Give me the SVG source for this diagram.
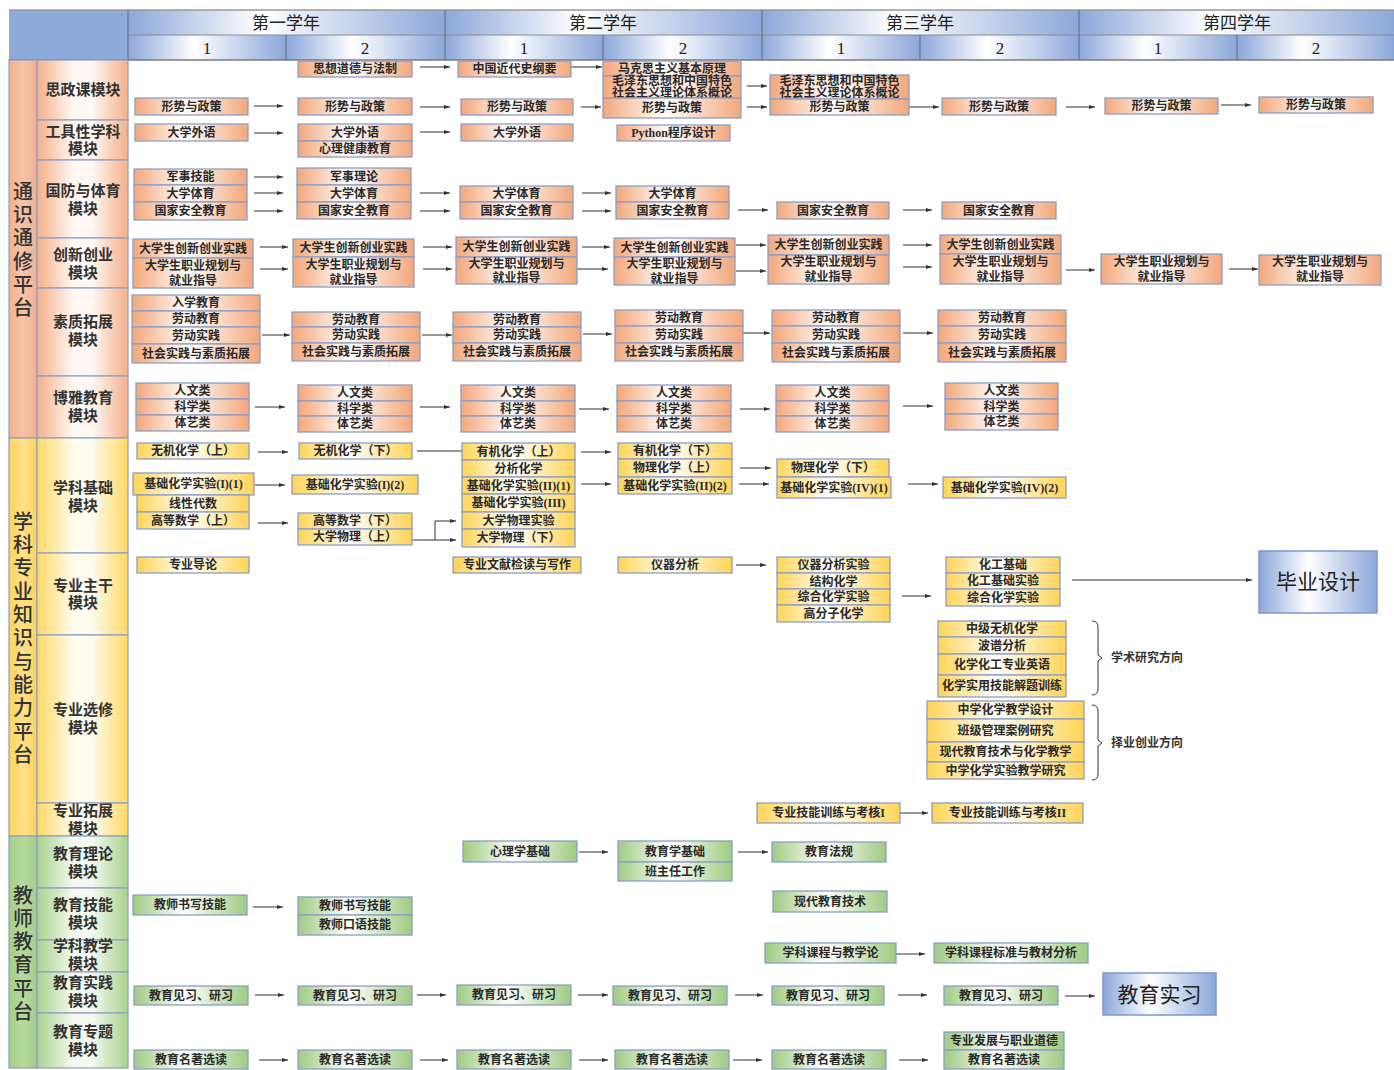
<svg xmlns="http://www.w3.org/2000/svg" width="1394" height="1070" viewBox="0 0 1394 1070">
<defs>
<linearGradient id="gO" x1="0" y1="0" x2="1" y2="0"><stop offset="0" stop-color="#F3A77A"/><stop offset="0.45" stop-color="#FFFFFF"/><stop offset="1" stop-color="#F3A77A"/></linearGradient>
<linearGradient id="gY" x1="0" y1="0" x2="1" y2="0"><stop offset="0" stop-color="#FFD455"/><stop offset="0.45" stop-color="#FFFFFF"/><stop offset="1" stop-color="#FFD455"/></linearGradient>
<linearGradient id="gG" x1="0" y1="0" x2="1" y2="0"><stop offset="0" stop-color="#9FCB82"/><stop offset="0.45" stop-color="#FFFFFF"/><stop offset="1" stop-color="#9FCB82"/></linearGradient>
<linearGradient id="gB" x1="0" y1="0" x2="1" y2="0"><stop offset="0" stop-color="#8BA7DA"/><stop offset="0.42" stop-color="#FFFFFF"/><stop offset="1" stop-color="#8BA7DA"/></linearGradient>
<linearGradient id="mO" x1="0" y1="0" x2="1" y2="0"><stop offset="0" stop-color="#F3B08A"/><stop offset="0.4" stop-color="#FFF8F3"/><stop offset="0.6" stop-color="#FFF8F3"/><stop offset="1" stop-color="#F3B08A"/></linearGradient>
<linearGradient id="mY" x1="0" y1="0" x2="1" y2="0"><stop offset="0" stop-color="#FFD966"/><stop offset="0.4" stop-color="#FFFBEF"/><stop offset="0.6" stop-color="#FFFBEF"/><stop offset="1" stop-color="#FFD966"/></linearGradient>
<linearGradient id="mG" x1="0" y1="0" x2="1" y2="0"><stop offset="0" stop-color="#A9D18E"/><stop offset="0.4" stop-color="#F4FAF0"/><stop offset="0.6" stop-color="#F4FAF0"/><stop offset="1" stop-color="#A9D18E"/></linearGradient>
<linearGradient id="pO" x1="0" y1="0" x2="1" y2="0"><stop offset="0" stop-color="#F2B08C"/><stop offset="0.5" stop-color="#F6C4A8"/><stop offset="1" stop-color="#F2B08C"/></linearGradient>
<linearGradient id="pY" x1="0" y1="0" x2="1" y2="0"><stop offset="0" stop-color="#FFD45C"/><stop offset="0.5" stop-color="#FFE08A"/><stop offset="1" stop-color="#FFD45C"/></linearGradient>
<linearGradient id="pG" x1="0" y1="0" x2="1" y2="0"><stop offset="0" stop-color="#A3CE87"/><stop offset="0.5" stop-color="#B5D99E"/><stop offset="1" stop-color="#A3CE87"/></linearGradient>
<marker id="ah" viewBox="0 0 6 4" markerWidth="6" markerHeight="4" refX="6" refY="2" orient="auto" markerUnits="userSpaceOnUse"><path d="M0,0 L6,2 L0,4 z" fill="#333"/></marker>
</defs>
<style>
.o{fill:url(#gO);stroke:#8C9FC6;stroke-width:1.3}
.y{fill:url(#gY);stroke:#8C9FC6;stroke-width:1.3}
.g{fill:url(#gG);stroke:#8C9FC6;stroke-width:1.3}
.b{fill:url(#gB);stroke:#7E98CB;stroke-width:1.5}
.t{font-family:"Liberation Serif","Noto Sans CJK SC",serif;font-size:12px;font-weight:700;fill:#2a2a2a;text-anchor:middle;dominant-baseline:central}
.m{font-family:"Liberation Serif","Noto Sans CJK SC",serif;font-size:15px;font-weight:700;fill:#333;text-anchor:middle;dominant-baseline:central}
.p{font-family:"Liberation Serif","Noto Sans CJK SC",serif;font-size:20px;font-weight:500;fill:#333;text-anchor:middle;dominant-baseline:central}
.h{font-family:"Liberation Serif","Noto Sans CJK SC",serif;font-size:17px;font-weight:400;fill:#222;text-anchor:middle;dominant-baseline:central}
.big{font-family:"Liberation Serif","Noto Sans CJK SC",serif;font-size:21px;font-weight:400;fill:#222;text-anchor:middle;dominant-baseline:central}
.lb{font-family:"Liberation Serif","Noto Sans CJK SC",serif;font-size:12px;font-weight:700;fill:#333;dominant-baseline:central}
.c{stroke:#333;stroke-width:1;fill:none;marker-end:url(#ah)}
.n{stroke:#333;stroke-width:1;fill:none}
.cell{stroke:#8C9FC6;stroke-width:1.2}
</style>
<rect x="0" y="0" width="1394" height="1070" fill="#fff"/>

<g id="header">
<rect x="9" y="10" width="119" height="50" fill="#8EAADB"/>
<rect x="128" y="10" width="317" height="25" fill="url(#gB)"/>
<rect x="445" y="10" width="317" height="25" fill="url(#gB)"/>
<rect x="762" y="10" width="317" height="25" fill="url(#gB)"/>
<rect x="1079" y="10" width="315" height="25" fill="url(#gB)"/>
<rect x="128" y="35" width="158" height="25" fill="url(#gB)"/>
<rect x="286" y="35" width="159" height="25" fill="url(#gB)"/>
<rect x="445" y="35" width="158" height="25" fill="url(#gB)"/>
<rect x="603" y="35" width="159" height="25" fill="url(#gB)"/>
<rect x="762" y="35" width="158" height="25" fill="url(#gB)"/>
<rect x="920" y="35" width="159" height="25" fill="url(#gB)"/>
<rect x="1079" y="35" width="158" height="25" fill="url(#gB)"/>
<rect x="1237" y="35" width="157" height="25" fill="url(#gB)"/>
<g stroke="#6b6b6b" stroke-width="1">
<line x1="9" y1="10" x2="1394" y2="10" stroke="#9a9a9a" stroke-width="1.5"/>
<line x1="128" y1="35" x2="1394" y2="35" stroke="#8a8a8a"/>
<line x1="9" y1="60" x2="1394" y2="60" stroke="#7a7a7a" stroke-width="1.5"/>
<line x1="128" y1="10" x2="128" y2="60"/>
<line x1="445" y1="10" x2="445" y2="60"/>
<line x1="762" y1="10" x2="762" y2="60"/>
<line x1="1079" y1="10" x2="1079" y2="60"/>
<line x1="286" y1="35" x2="286" y2="60"/>
<line x1="603" y1="35" x2="603" y2="60"/>
<line x1="920" y1="35" x2="920" y2="60"/>
<line x1="1237" y1="35" x2="1237" y2="60"/>
</g>
<text class="h" x="286" y="23">第一学年</text>
<text class="h" x="603" y="23">第二学年</text>
<text class="h" x="920" y="23">第三学年</text>
<text class="h" x="1237" y="23">第四学年</text>
<text class="h" x="207" y="48">1</text>
<text class="h" x="365" y="48">2</text>
<text class="h" x="524" y="48">1</text>
<text class="h" x="683" y="48">2</text>
<text class="h" x="841" y="48">1</text>
<text class="h" x="1000" y="48">2</text>
<text class="h" x="1158" y="48">1</text>
<text class="h" x="1316" y="48">2</text>
</g>

<g id="platforms">
<g id="plat1"><rect class="cell" x="9" y="60" width="28" height="378" fill="url(#pO)"/>
<text class="p" x="23" y="192">通</text><text class="p" x="23" y="215">识</text><text class="p" x="23" y="238">通</text><text class="p" x="23" y="262">修</text><text class="p" x="23" y="285">平</text><text class="p" x="23" y="308">台</text></g>
<g id="plat2"><rect class="cell" x="9" y="438" width="28" height="398" fill="url(#pY)"/>
<text class="p" x="23" y="522">学</text><text class="p" x="23" y="545">科</text><text class="p" x="23" y="568">专</text><text class="p" x="23" y="592">业</text><text class="p" x="23" y="615">知</text><text class="p" x="23" y="638">识</text><text class="p" x="23" y="662">与</text><text class="p" x="23" y="685">能</text><text class="p" x="23" y="708">力</text><text class="p" x="23" y="732">平</text><text class="p" x="23" y="755">台</text></g>
<g id="plat3"><rect class="cell" x="9" y="836" width="28" height="232" fill="url(#pG)"/>
<text class="p" x="23" y="896">教</text><text class="p" x="23" y="919">师</text><text class="p" x="23" y="942">教</text><text class="p" x="23" y="965">育</text><text class="p" x="23" y="989">平</text><text class="p" x="23" y="1012">台</text></g>
</g>

<g id="modules">
<g id="mod-szk"><rect class="cell" x="37" y="60" width="91" height="60" fill="url(#mO)"/><text class="m" x="83" y="90">思政课模块</text></g>
<g id="mod-gjx"><rect class="cell" x="37" y="120" width="91" height="40" fill="url(#mO)"/><text class="m" x="83" y="132">工具性学科</text><text class="m" x="83" y="149">模块</text></g>
<g id="mod-gf"><rect class="cell" x="37" y="160" width="91" height="78" fill="url(#mO)"/><text class="m" x="83" y="191">国防与体育</text><text class="m" x="83" y="209">模块</text></g>
<g id="mod-cx"><rect class="cell" x="37" y="238" width="91" height="50" fill="url(#mO)"/><text class="m" x="83" y="255">创新创业</text><text class="m" x="83" y="273">模块</text></g>
<g id="mod-sz"><rect class="cell" x="37" y="288" width="91" height="88" fill="url(#mO)"/><text class="m" x="83" y="322">素质拓展</text><text class="m" x="83" y="340">模块</text></g>
<g id="mod-by"><rect class="cell" x="37" y="376" width="91" height="62" fill="url(#mO)"/><text class="m" x="83" y="398">博雅教育</text><text class="m" x="83" y="416">模块</text></g>
<g id="mod-xkjc"><rect class="cell" x="37" y="438" width="91" height="115" fill="url(#mY)"/><text class="m" x="83" y="488">学科基础</text><text class="m" x="83" y="506">模块</text></g>
<g id="mod-zygg"><rect class="cell" x="37" y="553" width="91" height="82" fill="url(#mY)"/><text class="m" x="83" y="586">专业主干</text><text class="m" x="83" y="603">模块</text></g>
<g id="mod-zyxx"><rect class="cell" x="37" y="635" width="91" height="168" fill="url(#mY)"/><text class="m" x="83" y="710">专业选修</text><text class="m" x="83" y="728">模块</text></g>
<g id="mod-zytz"><rect class="cell" x="37" y="803" width="91" height="33" fill="url(#mY)"/><text class="m" x="83" y="811">专业拓展</text><text class="m" x="83" y="829">模块</text></g>
<g id="mod-jyll"><rect class="cell" x="37" y="836" width="91" height="52" fill="url(#mG)"/><text class="m" x="83" y="854">教育理论</text><text class="m" x="83" y="872">模块</text></g>
<g id="mod-jyjn"><rect class="cell" x="37" y="888" width="91" height="52" fill="url(#mG)"/><text class="m" x="83" y="905">教育技能</text><text class="m" x="83" y="923">模块</text></g>
<g id="mod-xkjx"><rect class="cell" x="37" y="940" width="91" height="32" fill="url(#mG)"/><text class="m" x="83" y="946">学科教学</text><text class="m" x="83" y="964">模块</text></g>
<g id="mod-jysj"><rect class="cell" x="37" y="972" width="91" height="41" fill="url(#mG)"/><text class="m" x="83" y="983">教育实践</text><text class="m" x="83" y="1001">模块</text></g>
<g id="mod-jyzt"><rect class="cell" x="37" y="1013" width="91" height="55" fill="url(#mG)"/><text class="m" x="83" y="1032">教育专题</text><text class="m" x="83" y="1050">模块</text></g>
</g>

<g id="connectors">
<line class="c" x1="420" y1="67" x2="450" y2="67"/>
<line class="c" x1="571" y1="67" x2="602" y2="67"/>
<line class="c" x1="254" y1="106" x2="283" y2="106"/>
<line class="c" x1="420" y1="107" x2="450" y2="107"/>
<line class="c" x1="581" y1="107" x2="601" y2="107"/>
<line class="c" x1="747" y1="86" x2="767" y2="86"/>
<line class="c" x1="747" y1="107" x2="767" y2="107"/>
<line class="c" x1="909" y1="107" x2="939" y2="107"/>
<line class="c" x1="1066" y1="107" x2="1095" y2="107"/>
<line class="c" x1="1221" y1="105" x2="1251" y2="105"/>
<line class="c" x1="254" y1="133" x2="283" y2="133"/>
<line class="c" x1="420" y1="132" x2="450" y2="132"/>
<line class="c" x1="254" y1="177" x2="283" y2="177"/>
<line class="c" x1="254" y1="193" x2="283" y2="193"/>
<line class="c" x1="254" y1="211" x2="283" y2="211"/>
<line class="c" x1="420" y1="193" x2="450" y2="193"/>
<line class="c" x1="420" y1="211" x2="450" y2="211"/>
<line class="c" x1="582" y1="193" x2="611" y2="193"/>
<line class="c" x1="582" y1="211" x2="611" y2="211"/>
<line class="c" x1="738" y1="210" x2="768" y2="210"/>
<line class="c" x1="903" y1="210" x2="932" y2="210"/>
<line class="c" x1="260" y1="247" x2="288" y2="247"/>
<line class="c" x1="260" y1="269" x2="288" y2="269"/>
<line class="c" x1="423" y1="247" x2="452" y2="247"/>
<line class="c" x1="423" y1="269" x2="452" y2="269"/>
<line class="c" x1="582" y1="247" x2="610" y2="247"/>
<line class="c" x1="577" y1="269" x2="608" y2="269"/>
<line class="c" x1="736" y1="245" x2="766" y2="245"/>
<line class="c" x1="736" y1="271" x2="766" y2="271"/>
<line class="c" x1="903" y1="245" x2="932" y2="245"/>
<line class="c" x1="903" y1="267" x2="932" y2="267"/>
<line class="c" x1="1066" y1="270" x2="1095" y2="270"/>
<line class="c" x1="1229" y1="269" x2="1258" y2="269"/>
<line class="c" x1="262" y1="335" x2="290" y2="335"/>
<line class="c" x1="422" y1="335" x2="452" y2="335"/>
<line class="c" x1="583" y1="334" x2="612" y2="334"/>
<line class="c" x1="743" y1="333" x2="770" y2="333"/>
<line class="c" x1="903" y1="333" x2="933" y2="333"/>
<line class="c" x1="255" y1="407" x2="285" y2="407"/>
<line class="c" x1="420" y1="407" x2="450" y2="407"/>
<line class="c" x1="579" y1="409" x2="609" y2="409"/>
<line class="c" x1="740" y1="409" x2="770" y2="409"/>
<line class="c" x1="903" y1="406" x2="933" y2="406"/>
<line class="c" x1="258" y1="452" x2="288" y2="452"/>
<line class="n" x1="417" y1="451" x2="462" y2="451"/>
<line class="c" x1="581" y1="452" x2="611" y2="452"/>
<line class="c" x1="581" y1="484" x2="611" y2="484"/>
<line class="c" x1="740" y1="468" x2="771" y2="468"/>
<line class="c" x1="739" y1="484" x2="769" y2="484"/>
<line class="c" x1="908" y1="484" x2="938" y2="484"/>
<line class="c" x1="255" y1="485" x2="285" y2="485"/>
<line class="c" x1="258" y1="523" x2="288" y2="523"/>
<line class="c" x1="412" y1="540" x2="456" y2="540"/>
<polyline class="c" points="435,540 435,521 456,521"/>
<line class="c" x1="736" y1="565" x2="766" y2="565"/>
<line class="c" x1="902" y1="596" x2="931" y2="596"/>
<line class="c" x1="1072" y1="580" x2="1252" y2="580"/>
<line class="c" x1="900" y1="813" x2="928" y2="813"/>
<line class="c" x1="579" y1="852" x2="608" y2="852"/>
<line class="c" x1="738" y1="852" x2="768" y2="852"/>
<line class="c" x1="253" y1="907" x2="283" y2="907"/>
<line class="c" x1="896" y1="954" x2="925" y2="954"/>
<line class="c" x1="255" y1="995" x2="284" y2="995"/>
<line class="c" x1="417" y1="995" x2="446" y2="995"/>
<line class="c" x1="578" y1="995" x2="608" y2="995"/>
<line class="c" x1="735" y1="995" x2="763" y2="995"/>
<line class="c" x1="898" y1="995" x2="927" y2="995"/>
<line class="c" x1="1065" y1="996" x2="1095" y2="996"/>
<line class="c" x1="259" y1="1060" x2="288" y2="1060"/>
<line class="c" x1="420" y1="1060" x2="448" y2="1060"/>
<line class="c" x1="579" y1="1060" x2="608" y2="1060"/>
<line class="c" x1="733" y1="1060" x2="762" y2="1060"/>
<line class="c" x1="899" y1="1060" x2="928" y2="1060"/>
<path class="n" d="M1092,621 Q1098,621 1098,627 L1098,655 L1102,658 L1098,661 L1098,689 Q1098,695 1092,695" stroke="#555"/>
<path class="n" d="M1092,705 Q1098,705 1098,711 L1098,740 L1102,743 L1098,746 L1098,774 Q1098,780 1092,780" stroke="#555"/>
</g>

<g id="n-sz-b"><rect class="o" x="298" y="61" width="114" height="16"/><text class="t" x="355" y="69">思想道德与法制</text></g>
<g id="n-sz-c"><rect class="o" x="458" y="61" width="113" height="16"/><text class="t" x="514.5" y="69">中国近代史纲要</text></g>
<g id="n-sz-d"><rect class="o" x="603" y="61" width="138" height="15"/><text class="t" x="672" y="68.5">马克思主义基本原理</text>
<rect class="o" x="603" y="76" width="138" height="22"/><text class="t" x="672" y="81">毛泽东思想和中国特色</text><text class="t" x="672" y="93">社会主义理论体系概论</text>
<rect class="o" x="603" y="98" width="138" height="20"/><text class="t" x="672" y="108">形势与政策</text></g>
<g id="n-sz-e"><rect class="o" x="770" y="75" width="139" height="24"/><text class="t" x="839.5" y="81">毛泽东思想和中国特色</text><text class="t" x="839.5" y="93">社会主义理论体系概论</text>
<rect class="o" x="770" y="99" width="139" height="16"/><text class="t" x="839.5" y="107">形势与政策</text></g>
<g id="n-xs-a"><rect class="o" x="135" y="98" width="113" height="17"/><text class="t" x="191.5" y="106.5">形势与政策</text></g>
<g id="n-xs-b"><rect class="o" x="298" y="98" width="114" height="17"/><text class="t" x="355" y="106.5">形势与政策</text></g>
<g id="n-xs-c"><rect class="o" x="461" y="99" width="112" height="16"/><text class="t" x="517" y="107">形势与政策</text></g>
<g id="n-xs-f"><rect class="o" x="942" y="98" width="114" height="17"/><text class="t" x="999" y="106.5">形势与政策</text></g>
<g id="n-xs-g"><rect class="o" x="1105" y="98" width="113" height="16"/><text class="t" x="1161.5" y="106">形势与政策</text></g>
<g id="n-xs-h"><rect class="o" x="1259" y="97" width="114" height="16"/><text class="t" x="1316" y="105">形势与政策</text></g>

<g id="n-gj-a"><rect class="o" x="135" y="124" width="113" height="17"/><text class="t" x="191.5" y="132.5">大学外语</text></g>
<g id="n-gj-b"><rect class="o" x="298" y="124" width="114" height="17"/><text class="t" x="355" y="132.5">大学外语</text>
<rect class="o" x="298" y="141" width="114" height="16"/><text class="t" x="355" y="149">心理健康教育</text></g>
<g id="n-gj-c"><rect class="o" x="461" y="124" width="112" height="17"/><text class="t" x="517" y="132.5">大学外语</text></g>
<g id="n-gj-d"><rect class="o" x="617" y="125" width="113" height="16"/><text class="t" x="673.5" y="133">Python程序设计</text></g>

<g id="n-gf-a"><rect class="o" x="134" y="169" width="113" height="16"/><text class="t" x="190.5" y="177">军事技能</text>
<rect class="o" x="134" y="185" width="113" height="17"/><text class="t" x="190.5" y="193.5">大学体育</text>
<rect class="o" x="134" y="202" width="113" height="18"/><text class="t" x="190.5" y="211">国家安全教育</text></g>
<g id="n-gf-b"><rect class="o" x="297" y="168" width="114" height="17"/><text class="t" x="354" y="176.5">军事理论</text>
<rect class="o" x="297" y="185" width="114" height="17"/><text class="t" x="354" y="193.5">大学体育</text>
<rect class="o" x="297" y="202" width="114" height="17"/><text class="t" x="354" y="210.5">国家安全教育</text></g>
<g id="n-gf-c"><rect class="o" x="460" y="186" width="113" height="16"/><text class="t" x="516.5" y="194">大学体育</text>
<rect class="o" x="460" y="202" width="113" height="17"/><text class="t" x="516.5" y="210.5">国家安全教育</text></g>
<g id="n-gf-d"><rect class="o" x="616" y="186" width="113" height="16"/><text class="t" x="672.5" y="194">大学体育</text>
<rect class="o" x="616" y="202" width="113" height="17"/><text class="t" x="672.5" y="210.5">国家安全教育</text></g>
<g id="n-gf-e"><rect class="o" x="777" y="202" width="112" height="17"/><text class="t" x="833" y="210.5">国家安全教育</text></g>
<g id="n-gf-f"><rect class="o" x="942" y="202" width="114" height="17"/><text class="t" x="999" y="210.5">国家安全教育</text></g>

<g id="n-cx-a"><rect class="o" x="133" y="239" width="120" height="19"/><text class="t" x="193" y="248.5">大学生创新创业实践</text>
<rect class="o" x="133" y="258" width="120" height="30"/><text class="t" x="193" y="266">大学生职业规划与</text><text class="t" x="193" y="281">就业指导</text></g>
<g id="n-cx-b"><rect class="o" x="293" y="239" width="121" height="18"/><text class="t" x="353.5" y="248">大学生创新创业实践</text>
<rect class="o" x="293" y="257" width="121" height="30"/><text class="t" x="353.5" y="265">大学生职业规划与</text><text class="t" x="353.5" y="280">就业指导</text></g>
<g id="n-cx-c"><rect class="o" x="456" y="237" width="121" height="20"/><text class="t" x="516.5" y="247">大学生创新创业实践</text>
<rect class="o" x="456" y="257" width="121" height="27"/><text class="t" x="516.5" y="264">大学生职业规划与</text><text class="t" x="516.5" y="278">就业指导</text></g>
<g id="n-cx-d"><rect class="o" x="614" y="238" width="121" height="19"/><text class="t" x="674.5" y="247.5">大学生创新创业实践</text>
<rect class="o" x="614" y="257" width="121" height="28"/><text class="t" x="674.5" y="264">大学生职业规划与</text><text class="t" x="674.5" y="279">就业指导</text></g>
<g id="n-cx-e"><rect class="o" x="768" y="235" width="121" height="20"/><text class="t" x="828.5" y="245">大学生创新创业实践</text>
<rect class="o" x="768" y="255" width="121" height="29"/><text class="t" x="828.5" y="262">大学生职业规划与</text><text class="t" x="828.5" y="277">就业指导</text></g>
<g id="n-cx-f"><rect class="o" x="940" y="235" width="121" height="19"/><text class="t" x="1000.5" y="244.5">大学生创新创业实践</text>
<rect class="o" x="940" y="254" width="121" height="30"/><text class="t" x="1000.5" y="262">大学生职业规划与</text><text class="t" x="1000.5" y="277">就业指导</text></g>
<g id="n-cx-g"><rect class="o" x="1101" y="254" width="121" height="30"/><text class="t" x="1161.5" y="262">大学生职业规划与</text><text class="t" x="1161.5" y="277">就业指导</text></g>
<g id="n-cx-h"><rect class="o" x="1259" y="255" width="122" height="30"/><text class="t" x="1320" y="262">大学生职业规划与</text><text class="t" x="1320" y="277">就业指导</text></g>

<g id="n-zt-a"><rect class="o" x="132" y="295" width="128" height="16"/><text class="t" x="196" y="303">入学教育</text>
<rect class="o" x="132" y="311" width="128" height="16"/><text class="t" x="196" y="319">劳动教育</text>
<rect class="o" x="132" y="327" width="128" height="17"/><text class="t" x="196" y="335.5">劳动实践</text>
<rect class="o" x="132" y="344" width="128" height="19"/><text class="t" x="196" y="353.5">社会实践与素质拓展</text></g>
<g id="n-zt-b"><rect class="o" x="292" y="312" width="128" height="15"/><text class="t" x="356" y="319.5">劳动教育</text>
<rect class="o" x="292" y="327" width="128" height="16"/><text class="t" x="356" y="335">劳动实践</text>
<rect class="o" x="292" y="343" width="128" height="18"/><text class="t" x="356" y="352">社会实践与素质拓展</text></g>
<g id="n-zt-c"><rect class="o" x="453" y="312" width="128" height="15"/><text class="t" x="517" y="319.5">劳动教育</text>
<rect class="o" x="453" y="327" width="128" height="16"/><text class="t" x="517" y="335">劳动实践</text>
<rect class="o" x="453" y="343" width="128" height="18"/><text class="t" x="517" y="352">社会实践与素质拓展</text></g>
<g id="n-zt-d"><rect class="o" x="615" y="310" width="128" height="16"/><text class="t" x="679" y="318">劳动教育</text>
<rect class="o" x="615" y="326" width="128" height="17"/><text class="t" x="679" y="334.5">劳动实践</text>
<rect class="o" x="615" y="343" width="128" height="18"/><text class="t" x="679" y="352">社会实践与素质拓展</text></g>
<g id="n-zt-e"><rect class="o" x="772" y="310" width="128" height="16"/><text class="t" x="836" y="318">劳动教育</text>
<rect class="o" x="772" y="326" width="128" height="17"/><text class="t" x="836" y="334.5">劳动实践</text>
<rect class="o" x="772" y="343" width="128" height="19"/><text class="t" x="836" y="352.5">社会实践与素质拓展</text></g>
<g id="n-zt-f"><rect class="o" x="938" y="310" width="128" height="16"/><text class="t" x="1002" y="318">劳动教育</text>
<rect class="o" x="938" y="326" width="128" height="17"/><text class="t" x="1002" y="334.5">劳动实践</text>
<rect class="o" x="938" y="343" width="128" height="19"/><text class="t" x="1002" y="352.5">社会实践与素质拓展</text></g>

<g id="n-by-a"><rect class="o" x="136" y="383" width="113" height="16"/><text class="t" x="192.5" y="391">人文类</text>
<rect class="o" x="136" y="399" width="113" height="16"/><text class="t" x="192.5" y="407">科学类</text>
<rect class="o" x="136" y="415" width="113" height="16"/><text class="t" x="192.5" y="423">体艺类</text></g>
<g id="n-by-b"><rect class="o" x="298" y="385" width="114" height="16"/><text class="t" x="355" y="393">人文类</text>
<rect class="o" x="298" y="401" width="114" height="15"/><text class="t" x="355" y="408.5">科学类</text>
<rect class="o" x="298" y="416" width="114" height="16"/><text class="t" x="355" y="424">体艺类</text></g>
<g id="n-by-c"><rect class="o" x="461" y="385" width="114" height="16"/><text class="t" x="518" y="393">人文类</text>
<rect class="o" x="461" y="401" width="114" height="15"/><text class="t" x="518" y="408.5">科学类</text>
<rect class="o" x="461" y="416" width="114" height="16"/><text class="t" x="518" y="424">体艺类</text></g>
<g id="n-by-d"><rect class="o" x="617" y="385" width="114" height="16"/><text class="t" x="674" y="393">人文类</text>
<rect class="o" x="617" y="401" width="114" height="15"/><text class="t" x="674" y="408.5">科学类</text>
<rect class="o" x="617" y="416" width="114" height="16"/><text class="t" x="674" y="424">体艺类</text></g>
<g id="n-by-e"><rect class="o" x="776" y="385" width="113" height="16"/><text class="t" x="832.5" y="393">人文类</text>
<rect class="o" x="776" y="401" width="113" height="15"/><text class="t" x="832.5" y="408.5">科学类</text>
<rect class="o" x="776" y="416" width="113" height="16"/><text class="t" x="832.5" y="424">体艺类</text></g>
<g id="n-by-f"><rect class="o" x="945" y="383" width="113" height="16"/><text class="t" x="1001.5" y="391">人文类</text>
<rect class="o" x="945" y="399" width="113" height="15"/><text class="t" x="1001.5" y="406.5">科学类</text>
<rect class="o" x="945" y="414" width="113" height="16"/><text class="t" x="1001.5" y="422">体艺类</text></g>

<g id="n-jc-a1"><rect class="y" x="137" y="443" width="112" height="16"/><text class="t" x="193" y="451">无机化学（上）</text></g>
<g id="n-jc-a2"><rect class="y" x="133" y="473" width="121" height="22"/><text class="t" x="193.5" y="484">基础化学实验(I)(1)</text></g>
<g id="n-jc-a3"><rect class="y" x="137" y="495" width="112" height="17"/><text class="t" x="193" y="503.5">线性代数</text>
<rect class="y" x="137" y="512" width="112" height="17"/><text class="t" x="193" y="520.5">高等数学（上）</text></g>
<g id="n-jc-b1"><rect class="y" x="299" y="443" width="113" height="16"/><text class="t" x="355.5" y="451">无机化学（下）</text></g>
<g id="n-jc-b2"><rect class="y" x="292" y="475" width="126" height="19"/><text class="t" x="355" y="484.5">基础化学实验(I)(2)</text></g>
<g id="n-jc-b3"><rect class="y" x="298" y="513" width="114" height="16"/><text class="t" x="355" y="521">高等数学（下）</text>
<rect class="y" x="298" y="529" width="114" height="16"/><text class="t" x="355" y="537">大学物理（上）</text></g>
<g id="n-jc-c"><rect class="y" x="462" y="443" width="113" height="17"/><text class="t" x="518.5" y="451.5">有机化学（上）</text>
<rect class="y" x="462" y="460" width="113" height="17"/><text class="t" x="518.5" y="468.5">分析化学</text>
<rect class="y" x="462" y="477" width="113" height="17"/><text class="t" x="518.5" y="485.5">基础化学实验(II)(1)</text>
<rect class="y" x="462" y="494" width="113" height="18"/><text class="t" x="518.5" y="503">基础化学实验(III)</text>
<rect class="y" x="462" y="512" width="113" height="17"/><text class="t" x="518.5" y="520.5">大学物理实验</text>
<rect class="y" x="462" y="529" width="113" height="18"/><text class="t" x="518.5" y="538">大学物理（下）</text></g>
<g id="n-jc-d"><rect class="y" x="618" y="443" width="114" height="16"/><text class="t" x="675" y="451">有机化学（下）</text>
<rect class="y" x="618" y="459" width="114" height="18"/><text class="t" x="675" y="468">物理化学（上）</text>
<rect class="y" x="618" y="477" width="114" height="17"/><text class="t" x="675" y="485.5">基础化学实验(II)(2)</text></g>
<g id="n-jc-e"><rect class="y" x="777" y="459" width="112" height="18"/><text class="t" x="833" y="468">物理化学（下）</text>
<rect class="y" x="777" y="477" width="114" height="21"/><text class="t" x="834" y="487.5">基础化学实验(IV)(1)</text></g>
<g id="n-jc-f"><rect class="y" x="943" y="477" width="123" height="21"/><text class="t" x="1004.5" y="487.5">基础化学实验(IV)(2)</text></g>

<g id="n-zg-a"><rect class="y" x="137" y="557" width="112" height="16"/><text class="t" x="193" y="565">专业导论</text></g>
<g id="n-zg-c"><rect class="y" x="453" y="557" width="128" height="16"/><text class="t" x="517" y="565">专业文献检读与写作</text></g>
<g id="n-zg-d"><rect class="y" x="618" y="557" width="114" height="16"/><text class="t" x="675" y="565">仪器分析</text></g>
<g id="n-zg-e"><rect class="y" x="777" y="557" width="113" height="16"/><text class="t" x="833.5" y="565">仪器分析实验</text>
<rect class="y" x="777" y="573" width="113" height="16"/><text class="t" x="833.5" y="582">结构化学</text>
<rect class="y" x="777" y="589" width="113" height="16"/><text class="t" x="833.5" y="597">综合化学实验</text>
<rect class="y" x="777" y="605" width="113" height="17"/><text class="t" x="833.5" y="613.5">高分子化学</text></g>
<g id="n-zg-f"><rect class="y" x="946" y="557" width="114" height="16"/><text class="t" x="1003" y="565">化工基础</text>
<rect class="y" x="946" y="573" width="114" height="16"/><text class="t" x="1003" y="581">化工基础实验</text>
<rect class="y" x="946" y="589" width="114" height="17"/><text class="t" x="1003" y="597.5">综合化学实验</text></g>
<g id="n-byjs"><rect class="b" x="1259" y="551" width="118" height="62"/><text class="big" x="1318" y="582">毕业设计</text></g>

<g id="n-xx-xs"><rect class="y" x="938" y="621" width="128" height="16"/><text class="t" x="1002" y="629">中级无机化学</text>
<rect class="y" x="938" y="637" width="128" height="17"/><text class="t" x="1002" y="645.5">波谱分析</text>
<rect class="y" x="938" y="654" width="128" height="21"/><text class="t" x="1002" y="664.5">化学化工专业英语</text>
<rect class="y" x="938" y="675" width="128" height="22"/><text class="t" x="1002" y="686">化学实用技能解题训练</text></g>
<g id="n-xx-zy"><rect class="y" x="927" y="701" width="157" height="18"/><text class="t" x="1005.5" y="710">中学化学教学设计</text>
<rect class="y" x="927" y="719" width="157" height="23"/><text class="t" x="1005.5" y="730.5">班级管理案例研究</text>
<rect class="y" x="927" y="742" width="157" height="20"/><text class="t" x="1005.5" y="752">现代教育技术与化学教学</text>
<rect class="y" x="927" y="762" width="157" height="17"/><text class="t" x="1005.5" y="770.5">中学化学实验教学研究</text></g>
<g id="lbl-xs"><text class="lb" x="1111" y="658">学术研究方向</text></g>
<g id="lbl-zy"><text class="lb" x="1111" y="743">择业创业方向</text></g>

<g id="n-tz-e"><rect class="y" x="757" y="803" width="143" height="20"/><text class="t" x="828.5" y="813">专业技能训练与考核I</text></g>
<g id="n-tz-f"><rect class="y" x="932" y="803" width="151" height="20"/><text class="t" x="1007.5" y="813">专业技能训练与考核II</text></g>

<g id="n-ll-c"><rect class="g" x="463" y="841" width="114" height="21"/><text class="t" x="520" y="851.5">心理学基础</text></g>
<g id="n-ll-d"><rect class="g" x="618" y="841" width="114" height="21"/><text class="t" x="675" y="851.5">教育学基础</text>
<rect class="g" x="618" y="862" width="114" height="19"/><text class="t" x="675" y="871.5">班主任工作</text></g>
<g id="n-ll-e"><rect class="g" x="772" y="842" width="114" height="20"/><text class="t" x="829" y="852">教育法规</text></g>

<g id="n-jn-a"><rect class="g" x="133" y="895" width="114" height="20"/><text class="t" x="190" y="905">教师书写技能</text></g>
<g id="n-jn-b"><rect class="g" x="298" y="897" width="114" height="18"/><text class="t" x="355" y="906">教师书写技能</text>
<rect class="g" x="298" y="915" width="114" height="20"/><text class="t" x="355" y="925">教师口语技能</text></g>
<g id="n-jn-e"><rect class="g" x="773" y="891" width="114" height="21"/><text class="t" x="830" y="901.5">现代教育技术</text></g>

<g id="n-jx-e"><rect class="g" x="765" y="943" width="131" height="20"/><text class="t" x="830.5" y="953">学科课程与教学论</text></g>
<g id="n-jx-f"><rect class="g" x="934" y="943" width="154" height="20"/><text class="t" x="1011" y="953">学科课程标准与教材分析</text></g>

<g id="n-sj-a"><rect class="g" x="134" y="986" width="114" height="19"/><text class="t" x="191" y="995.5">教育见习、研习</text></g>
<g id="n-sj-b"><rect class="g" x="298" y="986" width="114" height="19"/><text class="t" x="355" y="995.5">教育见习、研习</text></g>
<g id="n-sj-c"><rect class="g" x="457" y="985" width="114" height="20"/><text class="t" x="514" y="995">教育见习、研习</text></g>
<g id="n-sj-d"><rect class="g" x="613" y="986" width="114" height="19"/><text class="t" x="670" y="995.5">教育见习、研习</text></g>
<g id="n-sj-e"><rect class="g" x="772" y="986" width="112" height="19"/><text class="t" x="828" y="995.5">教育见习、研习</text></g>
<g id="n-sj-f"><rect class="g" x="944" y="986" width="114" height="19"/><text class="t" x="1001" y="995.5">教育见习、研习</text></g>
<g id="n-jysx"><rect class="b" x="1103" y="973" width="113" height="42"/><text class="big" x="1159.5" y="995">教育实习</text></g>

<g id="n-zt2-a"><rect class="g" x="134" y="1050" width="114" height="19"/><text class="t" x="191" y="1059.5">教育名著选读</text></g>
<g id="n-zt2-b"><rect class="g" x="298" y="1050" width="114" height="19"/><text class="t" x="355" y="1059.5">教育名著选读</text></g>
<g id="n-zt2-c"><rect class="g" x="457" y="1050" width="114" height="19"/><text class="t" x="514" y="1059.5">教育名著选读</text></g>
<g id="n-zt2-d"><rect class="g" x="615" y="1050" width="114" height="19"/><text class="t" x="672" y="1059.5">教育名著选读</text></g>
<g id="n-zt2-e"><rect class="g" x="772" y="1050" width="114" height="19"/><text class="t" x="829" y="1059.5">教育名著选读</text></g>
<g id="n-zt2-f"><rect class="g" x="944" y="1032" width="120" height="18"/><text class="t" x="1004" y="1041">专业发展与职业道德</text>
<rect class="g" x="944" y="1050" width="120" height="19"/><text class="t" x="1004" y="1059.5">教育名著选读</text></g>
</svg>
